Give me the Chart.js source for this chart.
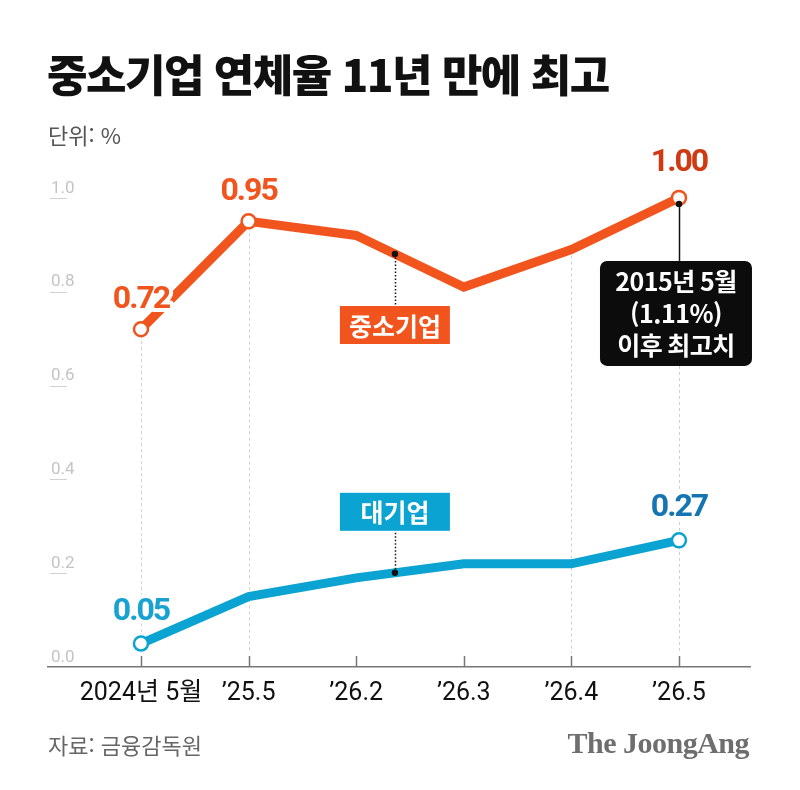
<!DOCTYPE html>
<html lang="ko">
<head>
<meta charset="utf-8">
<title>중소기업 연체율 11년 만에 최고</title>
<script src="https://cdn.jsdelivr.net/npm/chart.js@4"></script>
<style>
  body { margin: 0; background: #fff; }
  #wrap { position: relative; width: 800px; height: 790px; overflow: hidden; font-family: 'Noto Sans CJK KR', 'Noto Sans', sans-serif; }
  #myChart { position: absolute; left: 0; top: 0; }
  .txt { position: absolute; white-space: nowrap; }
  #title { left: 47px; top: 49px; font-size: 44px; line-height: 48px; font-weight: 900; letter-spacing: -1.5px; color: #111; }
  #unit { left: 48px; top: 121px; font-size: 22px; line-height: 26px; color: #555; }
  #source { left: 48px; top: 731px; font-size: 22px; line-height: 26px; color: #666; }
  #logo { right: 51px; top: 726px; font-family: 'Liberation Serif', 'DejaVu Serif', serif; font-weight: 700; font-size: 30px; line-height: 34px; color: #6e6e6e; letter-spacing: -0.5px; }
</style>
</head>
<body>
<div id="wrap">
  <canvas id="myChart" width="800" height="790"></canvas>
  <div class="txt" id="title">중소기업 연체율 11년 만에 최고</div>
  <div class="txt" id="unit">단위: %</div>
  <div class="txt" id="source">자료: 금융감독원</div>
  <div class="txt" id="logo">The JoongAng</div>
</div>
<script>
// 데이터
var categories = ['2024년 5월', '\u201925.5', '\u201926.2', '\u201926.3', '\u201926.4', '\u201926.5'];
var smeRate = [0.72, 0.95, 0.92, 0.81, 0.89, 1.00];   // 중소기업
var largeRate = [0.05, 0.15, 0.19, 0.22, 0.22, 0.27]; // 대기업
var yTicks = [0, 0.2, 0.4, 0.6, 0.8, 1.0];
var smeLabelIdx = [0, 1, 5];
var largeLabelIdx = [0, 5];
var dashedIdx = [0, 1, 4, 5];
var calloutLines = ['2015년 5월', '(1.11%)', '이후 최고치'];

var ORANGE = '#f2541d';
var BLUE = '#0aa3d2';
var KR = "'Noto Sans CJK KR', sans-serif";

function toPoints(arr) {
    return arr.map(function(v, i) { return { x: i, y: v }; });
}
function valueAt(arr, pos) {
    var i = Math.floor(pos), t = pos - i;
    return arr[i] + (arr[i + 1] - arr[i]) * t;
}
function radiusFor(idx) {
    return function(c) { return idx.indexOf(c.dataIndex) >= 0 ? 7 : 0; };
}

var overlay = {
    id: 'overlay',
    beforeDatasetsDraw: function(chart) {
        var ctx = chart.ctx, xs = chart.scales.x, ys = chart.scales.y;
        var axisY = ys.getPixelForValue(0);
        ctx.save();
        // y 눈금 라벨
        ctx.font = '17px Roboto, sans-serif';
        ctx.textAlign = 'left';
        ctx.textBaseline = 'bottom';
        yTicks.forEach(function(v) {
            var py = ys.getPixelForValue(v);
            ctx.fillStyle = '#c4c4c4';
            ctx.fillText(v.toFixed(1), 51, py - 1);
            if (v > 0) {
                ctx.strokeStyle = '#d2d2d2';
                ctx.lineWidth = 1;
                ctx.beginPath();
                ctx.moveTo(50, Math.round(py) + 0.5);
                ctx.lineTo(67, Math.round(py) + 0.5);
                ctx.stroke();
            }
        });
        // 점선
        ctx.setLineDash([3, 3]);
        ctx.strokeStyle = '#cfcfcf';
        ctx.lineWidth = 1;
        dashedIdx.forEach(function(i) {
            var px = Math.round(xs.getPixelForValue(i)) + 0.5;
            ctx.beginPath();
            ctx.moveTo(px, ys.getPixelForValue(smeRate[i]));
            ctx.lineTo(px, axisY - 14);
            ctx.stroke();
        });
        ctx.setLineDash([]);
        // x 눈금
        ctx.strokeStyle = '#777';
        ctx.lineWidth = 1.5;
        categories.forEach(function(c, i) {
            var px = Math.round(xs.getPixelForValue(i)) + 0.5;
            ctx.beginPath();
            ctx.moveTo(px, axisY - 11);
            ctx.lineTo(px, axisY);
            ctx.stroke();
        });
        ctx.restore();
    },
    afterDatasetsDraw: function(chart) {
        var ctx = chart.ctx, xs = chart.scales.x, ys = chart.scales.y;
        ctx.save();

        // 값 라벨
        function valueLabel(arr, i, color, lift) {
            var px = xs.getPixelForValue(i), py = ys.getPixelForValue(arr[i]) - lift;
            ctx.font = 'bold 32px Roboto, sans-serif';
            ctx.letterSpacing = '-2px';
            ctx.textAlign = 'center';
            ctx.textBaseline = 'middle';
            ctx.lineJoin = 'round';
            ctx.strokeStyle = '#fff';
            ctx.lineWidth = 8;
            ctx.strokeText(arr[i].toFixed(2), px, py);
            ctx.fillStyle = color;
            ctx.fillText(arr[i].toFixed(2), px, py);
            ctx.letterSpacing = '0px';
        }
        smeLabelIdx.forEach(function(i) {
            valueLabel(smeRate, i, i === 5 ? '#cf3a12' : ORANGE, i === 5 ? 35 : 29);
        });
        largeLabelIdx.forEach(function(i) {
            valueLabel(largeRate, i, i === 5 ? '#1574b2' : '#18a2d2', 32);
        });

        function dot(x, y) {
            ctx.fillStyle = '#111';
            ctx.beginPath();
            ctx.arc(x, y, 3.2, 0, Math.PI * 2);
            ctx.fill();
        }
        function tag(text, cx, top, bg) {
            ctx.fillStyle = bg;
            ctx.fillRect(cx - 55, top, 110, 38);
            ctx.fillStyle = '#fff';
            ctx.font = 'bold 25px ' + KR;
            ctx.textAlign = 'center';
            ctx.textBaseline = 'middle';
            ctx.fillText(text, cx, top + 20);
        }

        // 계열 태그
        var tagPos = 2.36;
        var tx = xs.getPixelForValue(tagPos);
        var smeY = ys.getPixelForValue(valueAt(smeRate, tagPos));
        var largeY = ys.getPixelForValue(valueAt(largeRate, tagPos));
        ctx.strokeStyle = '#111';
        ctx.lineWidth = 1.5;
        ctx.setLineDash([1.5, 2]);
        ctx.beginPath();
        ctx.moveTo(Math.round(tx) + 0.5, smeY);
        ctx.lineTo(Math.round(tx) + 0.5, smeY + 52);
        ctx.moveTo(Math.round(tx) + 0.5, largeY);
        ctx.lineTo(Math.round(tx) + 0.5, largeY - 42);
        ctx.stroke();
        ctx.setLineDash([]);
        dot(tx, smeY);
        dot(tx, largeY);
        tag('중소기업', tx, smeY + 52, ORANGE);
        tag('대기업', tx, largeY - 42 - 38, BLUE);

        // 최고치 말풍선
        var cx = xs.getPixelForValue(5);
        var cy = ys.getPixelForValue(smeRate[5]) + 6;
        var boxTop = cy + 57, boxW = 152, boxH = 105;
        var boxL = cx - 79;
        ctx.strokeStyle = '#111';
        ctx.lineWidth = 1.5;
        ctx.beginPath();
        ctx.moveTo(Math.round(cx) + 0.5, cy);
        ctx.lineTo(Math.round(cx) + 0.5, boxTop);
        ctx.stroke();
        dot(cx, cy);
        ctx.fillStyle = '#0c0c0c';
        ctx.beginPath();
        ctx.roundRect(boxL, boxTop, boxW, boxH, 7);
        ctx.fill();
        ctx.fillStyle = '#fff';
        ctx.font = 'bold 25px ' + KR;
        ctx.letterSpacing = '-0.5px';
        ctx.textAlign = 'center';
        ctx.textBaseline = 'middle';
        calloutLines.forEach(function(line, k) {
            ctx.fillText(line, boxL + boxW / 2, boxTop + 21 + k * 32);
        });
        ctx.letterSpacing = '0px';
        ctx.restore();
    }
};

document.addEventListener('DOMContentLoaded', function() {
    var ctx = document.getElementById('myChart').getContext('2d');
    var myChart = new Chart(ctx, {
        type: 'line',
        data: {
            datasets: [{
                label: '중소기업',
                data: toPoints(smeRate),
                borderColor: ORANGE,
                borderWidth: 9,
                borderJoinStyle: 'miter',
                pointRadius: radiusFor(smeLabelIdx),
                pointBackgroundColor: '#fff',
                pointBorderColor: ORANGE,
                pointBorderWidth: 2.5,
                tension: 0
            }, {
                label: '대기업',
                data: toPoints(largeRate),
                borderColor: BLUE,
                borderWidth: 9,
                borderJoinStyle: 'miter',
                pointRadius: radiusFor(largeLabelIdx),
                pointBackgroundColor: '#fff',
                pointBorderColor: BLUE,
                pointBorderWidth: 2.5,
                tension: 0
            }]
        },
        options: {
            responsive: false,
            animation: false,
            layout: { padding: { left: 48, right: 50, top: 151, bottom: 69 } },
            plugins: { legend: { display: false }, tooltip: { enabled: false } },
            scales: {
                x: {
                    type: 'linear',
                    min: -0.864,
                    max: 5.66,
                    afterBuildTicks: function(scale) {
                        scale.ticks = categories.map(function(c, i) { return { value: i }; });
                    },
                    ticks: {
                        autoSkip: false,
                        maxRotation: 0,
                        padding: 12,
                        color: '#111',
                        font: { family: "'Liberation Sans Narrow', Roboto, 'Noto Sans CJK KR', sans-serif", size: 25 },
                        callback: function(v) { return categories[v]; }
                    },
                    grid: { display: false, drawTicks: false },
                    border: { display: true, color: '#777', width: 1.5 }
                },
                y: {
                    display: false,
                    min: 0,
                    max: 1.1
                }
            }
        },
        plugins: [overlay]
    });
});
</script>
</body>
</html>
